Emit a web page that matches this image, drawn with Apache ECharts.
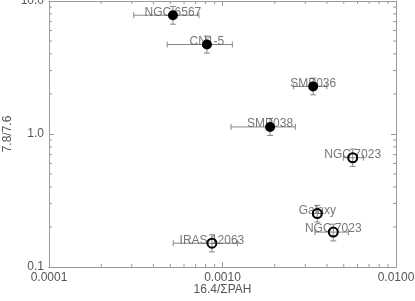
<!DOCTYPE html>
<html>
<head>
<meta charset="utf-8">
<script src="https://cdn.jsdelivr.net/npm/echarts@6/dist/echarts.min.js"></script>
<style>html,body{margin:0;padding:0;background:#fff}#c{width:415px;height:301px}</style>
</head>
<body>
<div id="c"></div>
<script>
const names  = ['NGC 6567', 'CN1-5', 'SMP036', 'SMP038', 'NGC 7023', 'Galaxy', 'NGC 7023', 'IRAS 12063'];
const filled = [true, true, true, true, false, false, false, false];
const xVals  = [5.18e-4, 8.13e-4, 3.33e-3, 1.88e-3, 5.63e-3, 3.52e-3, 4.35e-3, 8.69e-4];
const yVals  = [7.82, 4.71, 2.28, 1.13, 0.663, 0.252, 0.183, 0.151];
const xLow   = [3.08e-4, 4.80e-4, 2.56e-3, 1.12e-3, 4.97e-3, 3.33e-3, 3.41e-3, 5.20e-4];
const xHigh  = [7.31e-4, 1.14e-3, 3.99e-3, 2.63e-3, 6.49e-3, 3.70e-3, 5.31e-3, 1.22e-3];
const yLow   = [6.69, 4.06, 1.97, 0.975, 0.571, 0.218, 0.157, 0.130];
const yHigh  = [9.10, 5.45, 2.63, 1.31, 0.770, 0.291, 0.210, 0.175];
const xMin = 0.0001, xMax = 0.01, yMin = 0.1, yMax = 10;
const xMinor = [2e-4,3e-4,4e-4,5e-4,6e-4,7e-4,8e-4,9e-4,2e-3,3e-3,4e-3,5e-3,6e-3,7e-3,8e-3,9e-3];
const yMinor = [0.2,0.3,0.4,0.5,0.6,0.7,0.8,0.9,2,3,4,5,6,7,8,9];

const AX = '#999', TXT = '#555', FONT = 'Liberation Sans';
const rows = names.map((n, i) => [xVals[i], yVals[i], xLow[i], xHigh[i], yLow[i], yHigh[i], n]);

function axisBase(extra) {
  return Object.assign({
    type: 'log', logBase: 10,
    axisLine: { show: true, lineStyle: { color: AX, width: 1 } },
    axisTick: { show: true, inside: true, length: 5, lineStyle: { color: AX } },
    splitLine: { show: false },
    minorTick: { show: false },
    nameMoveOverlap: false,
    axisLabel: { color: TXT, fontFamily: FONT, fontSize: 12 }
  }, extra);
}

const chart = echarts.init(document.getElementById('c'), null, { renderer: 'canvas' });
chart.setOption({
  animation: false,
  backgroundColor: '#fff',
  grid: { left: 49, right: 19, top: 1, bottom: 34, containLabel: false, outerBoundsMode: 'none' },
  xAxis: [
    axisBase({ position: 'bottom', min: xMin, max: xMax,
      name: '16.4/\u03A3PAH', nameLocation: 'middle', nameGap: 17,
      nameTextStyle: { color: TXT, fontFamily: FONT, fontSize: 12 },
      axisLabel: { color: TXT, fontFamily: FONT, fontSize: 12, margin: 5, formatter: v => Number(v).toFixed(4) } }),
    axisBase({ position: 'top', min: xMin, max: xMax, axisLabel: { show: false } })
  ],
  yAxis: [
    axisBase({ position: 'left', min: yMin, max: yMax,
      name: '7.8/7.6', nameLocation: 'middle', nameGap: 35,
      nameTextStyle: { color: TXT, fontFamily: FONT, fontSize: 12 },
      axisLabel: { color: TXT, fontFamily: FONT, fontSize: 12, margin: 5, formatter: v => Number(v).toFixed(1) } }),
    axisBase({ position: 'right', min: yMin, max: yMax, axisLabel: { show: false } })
  ],
  series: [
    {
      type: 'custom', z: 1, silent: true,
      data: xMinor.map(v => [v]),
      encode: { x: 0 },
      renderItem: function (params, api) {
        const v = api.value(0);
        const b = api.coord([v, yMin]), t = api.coord([v, yMax]);
        const s = { stroke: AX, lineWidth: 1 };
        return { type: 'group', children: [
          { type: 'line', shape: { x1: b[0], y1: b[1], x2: b[0], y2: b[1] - 3 }, style: s },
          { type: 'line', shape: { x1: t[0], y1: t[1], x2: t[0], y2: t[1] + 3 }, style: s }
        ] };
      }
    },
    {
      type: 'custom', z: 1, silent: true,
      data: yMinor.map(v => [xMin, v]),
      encode: { x: 0, y: 1 },
      renderItem: function (params, api) {
        const v = api.value(1);
        const l = api.coord([xMin, v]), r = api.coord([xMax, v]);
        const s = { stroke: AX, lineWidth: 1 };
        return { type: 'group', children: [
          { type: 'line', shape: { x1: l[0], y1: l[1], x2: l[0] + 3, y2: l[1] }, style: s },
          { type: 'line', shape: { x1: r[0], y1: r[1], x2: r[0] - 3, y2: r[1] }, style: s }
        ] };
      }
    },
    {
      type: 'custom', z: 2, silent: true,
      data: rows,
      encode: { x: 0, y: 1 },
      renderItem: function (params, api) {
        const x = api.value(0), y = api.value(1);
        const pl = api.coord([api.value(2), y]), ph = api.coord([api.value(3), y]);
        const pb = api.coord([x, api.value(4)]), pt = api.coord([x, api.value(5)]);
        const c = 3, s = { stroke: '#888', lineWidth: 1 };
        return { type: 'group', children: [
          { type: 'line', shape: { x1: pl[0], y1: pl[1], x2: ph[0], y2: ph[1] }, style: s },
          { type: 'line', shape: { x1: pl[0], y1: pl[1] - c, x2: pl[0], y2: pl[1] + c }, style: s },
          { type: 'line', shape: { x1: ph[0], y1: ph[1] - c, x2: ph[0], y2: ph[1] + c }, style: s },
          { type: 'line', shape: { x1: pb[0], y1: pb[1], x2: pt[0], y2: pt[1] }, style: s },
          { type: 'line', shape: { x1: pb[0] - c, y1: pb[1], x2: pb[0] + c, y2: pb[1] }, style: s },
          { type: 'line', shape: { x1: pt[0] - c, y1: pt[1], x2: pt[0] + c, y2: pt[1] }, style: s }
        ] };
      }
    },
    {
      type: 'scatter', z: 3, silent: true, symbolSize: 0,
      data: rows.map(r => ({ value: [r[0], r[1]], name: r[6] })),
      label: { show: true, position: 'inside', offset: [0, -3], formatter: p => p.name,
        color: TXT, fontFamily: FONT, fontSize: 12 }
    },
    {
      type: 'scatter', z: 5, silent: true, symbol: 'circle', symbolSize: 10,
      data: rows.filter((r, i) => filled[i]).map(r => [r[0], r[1]]),
      itemStyle: { color: '#000', opacity: 1 }
    },
    {
      type: 'scatter', z: 5, silent: true, symbol: 'circle', symbolSize: 9,
      data: rows.filter((r, i) => !filled[i]).map(r => [r[0], r[1]]),
      itemStyle: { color: 'rgba(0,0,0,0)', borderColor: '#000', borderWidth: 2, opacity: 1 }
    }
  ]
});
</script>
</body>
</html>
